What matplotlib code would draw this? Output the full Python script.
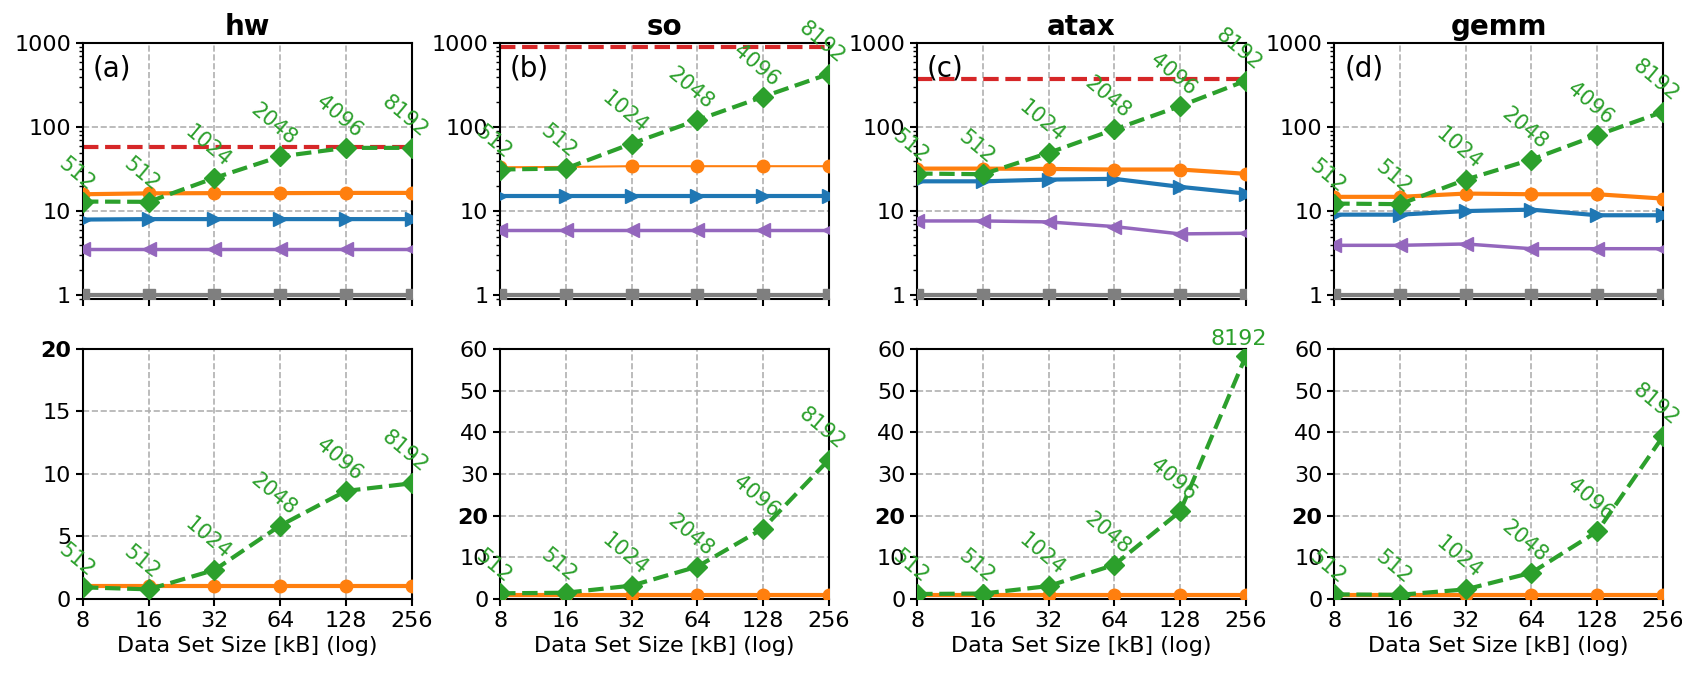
import matplotlib
matplotlib.use('Agg')
import matplotlib.pyplot as plt
from matplotlib.ticker import NullLocator

# ── data ──────────────────────────────────────────────────
sizes = [8, 16, 32, 64, 128, 256]
point_labels = ["512", "512", "1024", "2048", "4096", "8192"]
titles = ["hw", "so", "atax", "gemm"]
panel_tags = ["(a)", "(b)", "(c)", "(d)"]

# top row (log scale)
green_top = [
    [13.1, 13.0, 25.0, 45.0, 57.0, 57.0],
    [31.5, 32.4, 64.0, 122.0, 231.0, 431.0],
    [28.2, 27.7, 49.7, 94.4, 179.0, 359.0],
    [12.4, 12.2, 23.9, 41.4, 80.7, 153.0],
]
orange_top = [
    [16.0, 16.4, 16.5, 16.5, 16.6, 16.6],
    [33.5, 33.8, 34.5, 34.5, 34.5, 34.5],
    [32.3, 32.3, 32.0, 31.5, 31.5, 28.0],
    [14.9, 14.9, 16.3, 16.0, 16.0, 14.2],
]
blue_top = [
    [8.0, 8.1, 8.1, 8.1, 8.1, 8.1],
    [15.1, 15.1, 15.1, 15.1, 15.1, 15.1],
    [22.8, 22.8, 23.9, 24.4, 19.6, 16.3],
    [9.15, 9.15, 10.1, 10.5, 9.0, 9.0],
]
purple_top = [
    [3.6, 3.6, 3.6, 3.6, 3.6, 3.6],
    [6.0, 6.0, 6.0, 6.0, 6.0, 6.0],
    [7.7, 7.7, 7.5, 6.6, 5.4, 5.5],
    [3.95, 3.95, 4.1, 3.6, 3.6, 3.6],
]
gray_top = [
    [1.0, 1.0, 1.0, 1.0, 1.0, 1.0],
    [1.0, 1.0, 1.0, 1.0, 1.0, 1.0],
    [1.0, 1.0, 1.0, 1.0, 1.0, 1.0],
    [1.0, 1.0, 1.0, 1.0, 1.0, 1.0],
]
red_limit = [58.0, 910.0, 372.0, None]

# bottom row (linear scale)
green_bot = [
    [0.93, 0.77, 2.32, 5.87, 8.64, 9.25],
    [1.36, 1.5, 3.2, 7.76, 16.9, 33.4],
    [1.2, 1.3, 3.1, 8.2, 21.0, 58.3],
    [1.1, 1.0, 2.3, 6.3, 16.2, 39.0],
]
orange_bot = [
    [1.05, 1.05, 1.05, 1.05, 1.05, 1.05],
    [1.0, 1.0, 1.0, 1.0, 1.0, 1.0],
    [1.0, 1.0, 1.0, 1.0, 1.0, 1.0],
    [1.0, 1.0, 1.0, 1.0, 1.0, 1.0],
]
bot_ylim = [20, 60, 60, 60]
bot_yticks = [[0, 5, 10, 15, 20], [0, 10, 20, 30, 40, 50, 60],
              [0, 10, 20, 30, 40, 50, 60], [0, 10, 20, 30, 40, 50, 60]]

plt.rcParams['font.size'] = 16
plt.rcParams['axes.linewidth'] = 1.5
plt.rcParams['xtick.major.width'] = 1.5
plt.rcParams['ytick.major.width'] = 1.5
plt.rcParams['xtick.major.size'] = 5
plt.rcParams['ytick.major.size'] = 5
plt.rcParams['ytick.minor.size'] = 3
plt.rcParams['ytick.minor.width'] = 1.0

fig, axes = plt.subplots(2, 4, figsize=(16.83, 6.73), dpi=100,
                         gridspec_kw={'height_ratios': [256, 250]})
fig.subplots_adjust(left=0.0493, right=0.9881, top=0.9357, bottom=0.110,
                    wspace=0.269, hspace=0.196)

GREEN = "#2ca02c"


def style_x(ax, show_labels):
    ax.set_xscale('log', base=2)
    ax.set_xlim(8, 256)
    ax.set_xticks(sizes)
    ax.xaxis.set_minor_locator(NullLocator())
    if show_labels:
        ax.set_xticklabels([str(s) for s in sizes])
        ax.set_xlabel("Data Set Size [kB] (log)")
    else:
        ax.set_xticklabels([])
    ax.grid(True, which='major', ls='--', color='#b0b0b0', lw=1.2)


def label_points(ax, ys, rotations, sizes_pt):
    for xv, yv, lab, rot, fs in zip(sizes, ys, point_labels, rotations, sizes_pt):
        ax.annotate(lab, (xv, yv), xytext=(-5, 5), textcoords='offset points',
                    ha='center', va='bottom', rotation=rot, color=GREEN,
                    fontsize=fs, annotation_clip=False)


for i in range(4):
    # top row
    ax = axes[0, i]
    if red_limit[i] is not None:
        ax.axhline(red_limit[i], color='#d62728', ls='--', lw=3, zorder=2)
    ax.plot(sizes, gray_top[i], color='#7f7f7f', marker='s', ms=9, lw=3, zorder=3)
    ax.plot(sizes, purple_top[i], color='#9467bd', marker='<', ms=10, lw=2.5, zorder=3)
    ax.plot(sizes, blue_top[i], color='#1f77b4', marker='>', ms=10, lw=3, zorder=3)
    ax.plot(sizes, orange_top[i], color='#ff7f0e', marker='o', ms=9,
            lw=1.5 if i == 1 else 3, zorder=3)
    ax.plot(sizes, green_top[i], color=GREEN, marker='D', ms=10, lw=3, ls='--', zorder=4)
    label_points(ax, green_top[i], [-40] * 6, [15] * 6)
    ax.set_yscale('log')
    ax.set_ylim(0.9, 1000)
    ax.set_yticks([1, 10, 100, 1000])
    ax.set_yticklabels(["1", "10", "100", "1000"])
    style_x(ax, False)
    ax.set_title(titles[i], fontweight='bold', fontsize=20)
    ax.text(0.03, 0.9, panel_tags[i], transform=ax.transAxes,
            ha='left', va='center', fontsize=20)

    # bottom row
    ax = axes[1, i]
    ax.plot(sizes, orange_bot[i], color='#ff7f0e', marker='o', ms=9, lw=3, zorder=3)
    ax.plot(sizes, green_bot[i], color=GREEN, marker='D', ms=10, lw=3, ls='--', zorder=4)
    rots = [-40] * 6
    fss = [15] * 6
    if i == 2:
        rots[-1] = 0
        fss[-1] = 16
    label_points(ax, green_bot[i], rots, fss)
    ax.set_ylim(0, bot_ylim[i])
    ax.set_yticks(bot_yticks[i])
    for t in ax.get_yticklabels():
        if t.get_text() == "20":
            t.set_fontweight('bold')
    style_x(ax, True)

plt.savefig("out.png", dpi=100)
